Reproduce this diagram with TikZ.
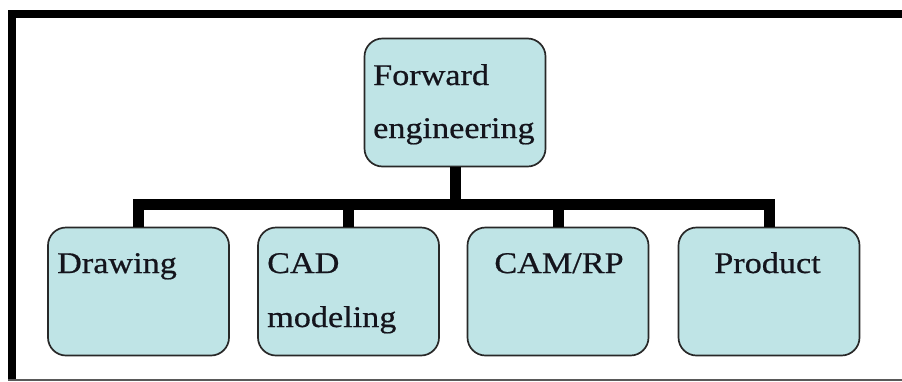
\documentclass[tikz,border=0pt]{standalone}
\usepackage{fontspec}
\newfontfamily\lblfont[FakeStretch=1.14,FakeBold=0.6]{Liberation Serif}
\definecolor{boxfill}{RGB}{191,228,230}
\definecolor{boxline}{RGB}{40,40,40}
\definecolor{txtcol}{RGB}{20,20,28}
\begin{document}
\begin{tikzpicture}[x=1pt,y=-1pt,
  box/.style={draw=boxline, line width=1.7pt, fill=boxfill, rounded corners=18pt,
    minimum width=181pt, minimum height=128pt, inner sep=0pt},
  txt/.style={font=\lblfont\fontsize{30}{30}\selectfont, text=txtcol, inner sep=0pt},
  conn/.style={line width=11pt, black, line join=miter, line cap=butt}]
\useasboundingbox (0,0) rectangle (902,381);
\fill[white] (0,0) rectangle (902,381);
% frame
\fill[black] (8,10) rectangle (902,18.3);
\fill[black] (8,10) rectangle (16,381);
\draw[gray!70!black, line width=1.2pt] (8,380) -- (902,380);
% boxes
\node[box] (fe) at (455,102.5) {};
\node[box] (dr) at (138.5,291.5) {};
\node[box] (cad) at (348.5,291.5) {};
\node[box] (cam) at (558,291.5) {};
\node[box] (pr) at (769,291.5) {};
% connectors
\coordinate (bar) at (454,204);
\draw[conn] (dr.north) -- (dr.north |- bar) -- (pr.north |- bar) -- (pr.north);
\draw[conn] (fe.south) -- (fe.south |- bar);
\draw[conn] (cad.north) -- (cad.north |- bar);
\draw[conn] (cam.north) -- (cam.north |- bar);
% texts
\node[txt, anchor=base west] (t1) at (373,85) {Forward};
\node[txt, anchor=base west] (t2) at (373,138) {engineering};
\node[txt, anchor=base west] (t3) at (57,273) {Drawing};
\node[txt, anchor=base west] (t4) at (267,273) {CAD};
\node[txt, anchor=base west] (t5) at (267,327) {modeling};
\node[txt, anchor=base] (t6) at (559,273) {CAM/RP};
\node[txt, anchor=base] (t7) at (767.5,273) {Product};
\end{tikzpicture}
\end{document}
